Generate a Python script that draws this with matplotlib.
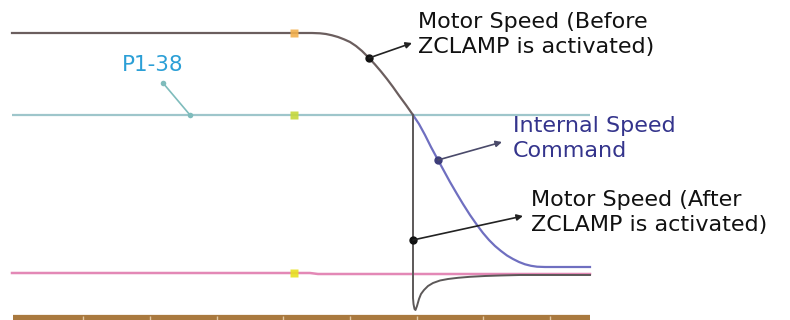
import matplotlib
matplotlib.use("Agg")
import matplotlib.pyplot as plt

# ZCLAMP timing diagram, values in pixel units (y grows down)
W, H = 790, 320

# motor speed before ZCLAMP (flat, then decelerating)
before_x = [12, 312, 320, 326, 332, 338, 344, 350, 356, 362, 369, 375, 381, 387,
            393, 399, 406, 413]
before_y = [33, 33, 33.3, 34, 35.3, 37, 39.3, 42, 46, 51, 58, 64.5, 71.5, 79,
            87, 95.5, 105, 115]

# internal speed command (continues the deceleration)
cmd_x = [413, 419, 425, 431, 438, 444, 450, 457, 463, 470, 477, 483, 489, 495,
         501, 507, 513, 519, 525, 531, 537, 545, 590]
cmd_y = [115, 124, 135, 147, 160, 171, 182, 194, 204, 215, 225, 233, 240, 246,
         251, 255.5, 259, 262, 264.3, 265.8, 266.7, 267, 267]

# motor speed after ZCLAMP (clamped drop, undershoot, settle)
after_x = [413, 413, 413.5, 414.5, 415.5, 417, 419, 421, 424, 428, 433, 440, 448,
           458, 470, 485, 500, 520, 590]
after_y = [115, 298, 304, 309, 310, 306, 299, 294, 290, 286, 283, 280.5, 279,
           277.8, 276.8, 276, 275.5, 275, 275]

# reference levels
p138_y = 115
zero_x = [12, 310, 318, 590]
zero_y = [273, 273, 274, 274]
level_x = [12, 590]

# time axis bar and its ticks
bar_y = 318
bar_x = [13, 590]
bar_ticks = [83, 150, 217, 283, 350, 417, 483, 550]

# yellow markers at the same instant
mark_x = 294
mark_y = [33, 115, 273]
mark_c = ["#f2b04e", "#c6d83c", "#e8e021"]

# P1-38 pointer
p_ptr_x = [163, 190]
p_ptr_y = [83, 115]

fig = plt.figure(figsize=(W / 100, H / 100), dpi=100)
ax = fig.add_axes([0, 0, 1, 1])
ax.set_xlim(0, W)
ax.set_ylim(H, 0)
ax.axis("off")

ax.hlines(p138_y, level_x[0], level_x[1], color="#9ec6cb", lw=1.6)
ax.plot(zero_x, zero_y, color="#e388b6", lw=1.8)
ax.plot(before_x, before_y, color="#6b5e5e", lw=1.6)
ax.plot(cmd_x, cmd_y, color="#6f6fc0", lw=1.6)
ax.plot(after_x, after_y, color="#5c5858", lw=1.4)

ax.hlines(bar_y, bar_x[0], bar_x[1], color="#a9793f", lw=4.5)
ax.vlines(bar_ticks, bar_y - 2, bar_y + 2, color="#e2c9a4", lw=1)

for y, c in zip(mark_y, mark_c):
    ax.plot(mark_x, y, "s", ms=6, color=c, mec="none", alpha=0.9)

ax.plot(p_ptr_x, p_ptr_y, color="#7fbcbc", lw=1.2)
ax.plot(p_ptr_x, p_ptr_y, "o", ms=4, color="#7fbcbc", mec="none")
ax.text(122, 55, "P1-38", color="#2b9fd6", fontsize=15.5, va="top",
        family="DejaVu Sans")

arrow = dict(arrowstyle="-|>", lw=1.2, mutation_scale=9, shrinkA=0, shrinkB=0)
labels = [
    ("Motor Speed (Before\nZCLAMP is activated)", (369, 58), (412, 43), (418, 12), "#111111"),
    ("Internal Speed\nCommand", (438, 160), (502, 142), (513, 116), "#34348c"),
    ("Motor Speed (After\nZCLAMP is activated)", (413, 240), (523, 216), (531, 190), "#111111"),
]
for txt, dot, tip, pos, col in labels:
    blue = col == "#34348c"
    ax.annotate("", xy=tip, xytext=dot,
                arrowprops=dict(arrow, color="#4a4a6a" if blue else "#222222"))
    ax.plot(*dot, "o", ms=5, color="#3c3c7a" if blue else "#111111")
    ax.text(pos[0], pos[1], txt, color=col, fontsize=16, va="top",
            linespacing=1.32, family="DejaVu Sans")

fig.savefig("out.png", dpi=100)
